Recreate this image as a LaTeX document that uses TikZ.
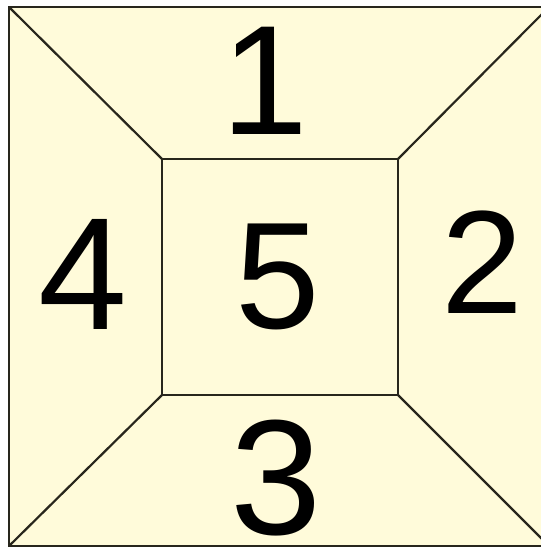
\documentclass[tikz,border=0pt]{standalone}
\usepackage{fontspec}
\setmainfont{Liberation Sans}
\definecolor{panel}{RGB}{255,251,218}
\definecolor{edge}{RGB}{40,38,28}
\begin{document}
\begin{tikzpicture}[x=1pt,y=-1pt,
  line/.style={draw=edge,line width=2.2pt},
  digit/.style={inner sep=0pt,outer sep=0pt,text=black}]
\useasboundingbox (0,0) rectangle (541,550);
\fill[white] (0,0) rectangle (541,550);
\clip (0,0) rectangle (541,550);
\coordinate (o1) at (9,7);
\coordinate (o2) at (549,7);
\coordinate (o3) at (549,546);
\coordinate (o4) at (9,546);
\coordinate (i1) at (162,159);
\coordinate (i2) at (398,159);
\coordinate (i3) at (398,395);
\coordinate (i4) at (162,395);
\fill[panel] (o1) -- (o2) -- (o3) -- (o4) -- cycle;
\draw[line] (o1) -- (o2) -- (o3) -- (o4) -- cycle;
\draw[line] (i1) -- (i2) -- (i3) -- (i4) -- cycle;
\draw[line] (o1) -- (i1);
\draw[line] (o2) -- (i2);
\draw[line] (o3) -- (i3);
\draw[line] (o4) -- (i4);
\node[digit,font=\fontsize{156}{156}\selectfont] (n1) at (265,81) {1};
\node[digit,font=\fontsize{147}{147}\selectfont] (n2) at (482.5,262.5) {2};
\node[digit,font=\fontsize{164}{164}\selectfont] (n3) at (276,478) {3};
\node[digit,font=\fontsize{160}{160}\selectfont] (n4) at (82.5,274.5) {4};
\node[digit,font=\fontsize{152}{152}\selectfont] (n5) at (278,277) {5};
\end{tikzpicture}
\end{document}
